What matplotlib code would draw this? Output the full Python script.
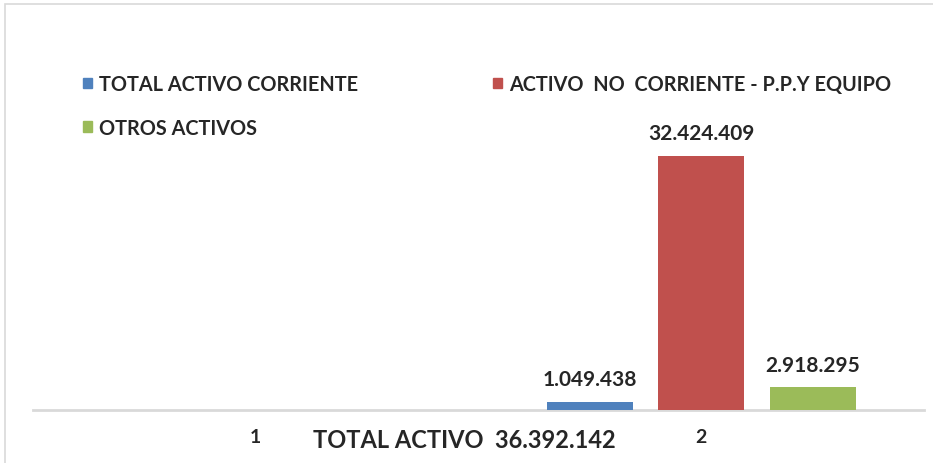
import numpy as np
import matplotlib.pyplot as plt
from matplotlib.patches import Rectangle, Patch

plt.rcParams['font.family'] = ['Lato', 'DejaVu Sans']
plt.rcParams['font.weight'] = 'bold'

# data
categories = ['1', '2']
series_names = ['TOTAL ACTIVO CORRIENTE', 'ACTIVO  NO  CORRIENTE - P.P.Y EQUIPO', 'OTROS ACTIVOS']
corriente = [np.nan, 1049438]
no_corriente = [np.nan, 32424409]
otros = [np.nan, 2918295]
total_label = 'TOTAL ACTIVO  36.392.142'

colors = ['#4F81BD', '#C0504D', '#9BBB59']

def fmt(v):
    return f'{v:,.0f}'.replace(',', '.')

fig = plt.figure(figsize=(9.33, 4.64), dpi=100)
ax = fig.add_axes([33 / 933, 53 / 464, 891 / 933, 371 / 464])

x = np.arange(len(categories))
width = 0.193
offsets = [-0.25, 0, 0.25]
for vals, off, c in zip([corriente, no_corriente, otros], offsets, colors):
    bars = ax.bar(x + off, vals, width, color=c, zorder=3)
    for b, v in zip(bars, vals):
        if not np.isnan(v):
            ax.annotate(fmt(v), (b.get_x() + b.get_width() / 2, v),
                        xytext=(0, 9), textcoords='offset points',
                        ha='center', va='bottom', fontsize=15, color='#262626')

ax.set_xlim(-0.5, 1.5)
ax.set_ylim(0, max(no_corriente[1:]) * 371 / 254)
ax.set_xticks(x)
ax.set_xticklabels(categories, fontsize=14, color='#262626')
ax.tick_params(axis='x', length=0, pad=13)
ax.set_yticks([])
for s in ['top', 'right', 'left']:
    ax.spines[s].set_visible(False)
ax.spines['bottom'].set_color('#d9d9d9')
ax.spines['bottom'].set_linewidth(2)

fig.text(464 / 933, 1 - 441 / 464, total_label, ha='center', va='center',
         fontsize=17, color='#262626')

handles = [Patch(color=c) for c in colors]
order = [0, 2, 1]
leg = fig.legend([handles[i] for i in order], [series_names[i] for i in order],
                 ncol=2, loc='upper left', bbox_to_anchor=(83 / 933, 1 - 75 / 464),
                 frameon=False, fontsize=14.3, handlelength=0.45, handleheight=0.45,
                 handletextpad=0.35, columnspacing=6.8, labelspacing=1.2,
                 borderaxespad=0, borderpad=0)
for t in leg.get_texts():
    t.set_color('#262626')

fig.patches.append(Rectangle((5 / 933, -0.1), 1.0, 1 - 5 / 464 + 0.1,
                             transform=fig.transFigure, fill=False,
                             edgecolor='#d9d9d9', linewidth=1.2))

fig.savefig('out.png', dpi=100)
